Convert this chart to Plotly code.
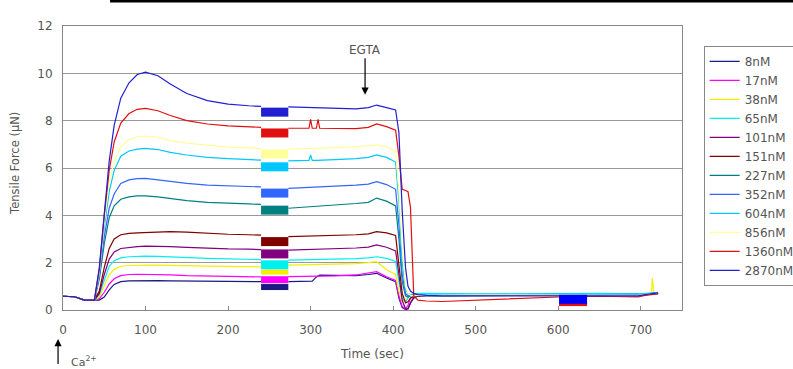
import plotly.graph_objects as go

# ---------------- data ----------------
time_sec = [0, 14, 26, 38, 44, 50, 56, 62, 70, 80, 90, 100, 115, 130, 150, 175, 200, 225, 240, 256,
            273, 298, 300, 302, 307, 309, 311, 330, 355, 370, 380, 392,
            403, 407, 411, 415, 418, 421, 425, 430, 440, 460, 500, 550, 600, 650,
            697, 705, 713, 714, 716, 721]

labels = ["8nM", "17nM", "38nM", "65nM", "101nM", "151nM", "227nM", "352nM",
          "604nM", "856nM", "1360nM", "2870nM"]
colors = ["#1a1a80", "#ff00ff", "#f5ee00", "#00f0f0", "#800080", "#800000",
          "#008080", "#3366ff", "#00c8ff", "#ffff99", "#e01010", "#2020d0"]

pre = [0.58, 0.56, 0.42, 0.42]

f_8 = pre + [0.42, 0.55, 0.85, 1.08, 1.2, 1.23, 1.24, 1.24, 1.24, 1.23, 1.23, 1.22, 1.22, 1.21, 1.2, None,
             1.2, 1.2, 1.2, 1.22, 1.4, 1.45, 1.47, 1.46, 1.45, 1.5, 1.55, 1.35,
             1.2, 0.5, 0.1, 0.02, 0.05, 0.3, 0.5, 0.58, 0.6, 0.6, 0.62, 0.62, 0.63, 0.63,
             0.6, 0.64, 0.66, 0.68, 0.68, 0.7]
f_17 = pre + [0.48, 0.75, 1.1, 1.32, 1.45, 1.5, 1.51, 1.51, 1.5, 1.48, 1.45, 1.43, 1.42, 1.41, 1.4, None,
              1.41, 1.41, 1.41, 1.41, 1.42, 1.42, 1.42, 1.44, 1.48, 1.55, 1.62, 1.4,
              1.25, 0.6, 0.15, 0.05, 0.2, 0.5, 0.6, 0.62, 0.64, 0.64, 0.64, 0.64, 0.65, 0.65,
              0.63, 0.66, 0.68, 0.7, 0.7, 0.7]
f_38 = pre + [0.55, 1.0, 1.5, 1.72, 1.85, 1.88, 1.9, 1.9, 1.9, 1.88, 1.86, 1.85, 1.84, 1.83, 1.82, None,
              1.9, 1.92, 1.92, 1.92, 1.92, 1.92, 1.92, 1.94, 1.96, 2.0, 2.04, 1.7,
              1.5, 0.8, 0.35, 0.4, 0.55, 0.62, 0.65, 0.66, 0.67, 0.66, 0.66, 0.66, 0.67, 0.66,
              0.64, 0.68, 0.7, 1.35, 0.72, 0.72]
f_65 = pre + [0.65, 1.3, 1.85, 2.08, 2.2, 2.25, 2.27, 2.28, 2.27, 2.24, 2.2, 2.18, 2.16, 2.15, 2.13, None,
              2.11, 2.12, 2.12, 2.12, 2.13, 2.13, 2.13, 2.15, 2.17, 2.2, 2.25, 2.18,
              2.05, 1.2, 0.5, 0.35, 0.5, 0.65, 0.68, 0.7, 0.7, 0.69, 0.68, 0.68, 0.7, 0.7,
              0.68, 0.7, 0.72, 0.74, 0.74, 0.75]
f_101 = pre + [0.7, 1.5, 2.15, 2.45, 2.6, 2.65, 2.68, 2.7, 2.7, 2.68, 2.65, 2.6, 2.58, 2.57, 2.55, None,
               2.53, 2.55, 2.55, 2.55, 2.56, 2.56, 2.56, 2.6, 2.62, 2.66, 2.75, 2.65,
               2.5, 1.5, 0.4, 0.05, 0.05, 0.3, 0.55, 0.62, 0.63, 0.63, 0.64, 0.64, 0.65, 0.65,
               0.63, 0.66, 0.68, 0.7, 0.7, 0.7]
f_151 = pre + [0.8, 1.8, 2.6, 3.0, 3.18, 3.24, 3.26, 3.28, 3.3, 3.31, 3.29, 3.24, 3.2, 3.18, 3.16, None,
               3.1, 3.12, 3.12, 3.12, 3.13, 3.13, 3.13, 3.15, 3.18, 3.22, 3.31, 3.26,
               3.15, 1.9, 0.7, 0.3, 0.35, 0.5, 0.58, 0.6, 0.62, 0.62, 0.63, 0.63, 0.64, 0.64,
               0.62, 0.65, 0.67, 0.68, 0.68, 0.7]
f_227 = pre + [1.3, 2.8, 3.9, 4.4, 4.68, 4.78, 4.82, 4.82, 4.78, 4.7, 4.62, 4.55, 4.5, 4.48, 4.46, None,
               4.3, 4.36, 4.36, 4.36, 4.38, 4.38, 4.38, 4.42, 4.5, 4.55, 4.73, 4.6,
               4.4, 3.0, 1.2, 0.6, 0.55, 0.6, 0.62, 0.63, 0.64, 0.64, 0.64, 0.64, 0.65, 0.65,
               0.63, 0.66, 0.68, 0.7, 0.7, 0.7]
f_352 = pre + [1.4, 3.1, 4.3, 4.9, 5.35, 5.5, 5.55, 5.56, 5.5, 5.43, 5.35, 5.28, 5.24, 5.22, 5.2, None,
               5.14, 5.18, 5.18, 5.18, 5.2, 5.2, 5.2, 5.24, 5.28, 5.32, 5.42, 5.3,
               5.1, 3.6, 1.5, 0.7, 0.6, 0.62, 0.63, 0.64, 0.65, 0.64, 0.65, 0.65, 0.66, 0.65,
               0.64, 0.67, 0.7, 0.7, 0.7, 0.72]
f_604 = pre + [1.5, 3.5, 5.0, 5.9, 6.5, 6.72, 6.8, 6.83, 6.78, 6.66, 6.55, 6.45, 6.4, 6.36, 6.33, None,
               6.3, 6.32, 6.55, 6.32, 6.32, 6.32, 6.32, 6.35, 6.4, 6.45, 6.55, 6.45,
               6.25, 4.6, 2.0, 0.9, 0.7, 0.65, 0.65, 0.66, 0.67, 0.66, 0.66, 0.66, 0.67, 0.66,
               0.65, 0.68, 0.7, 0.72, 0.72, 0.73]
f_856 = pre + [1.6, 3.7, 5.4, 6.3, 6.9, 7.2, 7.32, 7.35, 7.3, 7.16, 7.05, 6.95, 6.88, 6.85, 6.82, None,
               6.8, 6.82, 6.82, 6.82, 6.84, 6.84, 6.84, 6.86, 6.9, 6.95, 6.98, 6.9,
               6.7, 5.0, 2.6, 1.0, 0.7, 0.62, 0.6, 0.62, 0.63, 0.63, 0.64, 0.63, 0.64, 0.64,
               0.62, 0.66, 0.68, 0.7, 0.7, 0.7]
f_1360 = pre + [1.7, 4.0, 5.9, 7.1, 7.9, 8.3, 8.48, 8.52, 8.42, 8.22, 8.0, 7.86, 7.78, 7.74, 7.72, None,
                7.68, 7.68, 8.05, 7.68, 7.68, 8.05, 7.68, 7.68, 7.66, 7.72, 7.86, 7.75,
                7.6, 6.5, 5.1, 5.05, 5.0, 4.35, 0.6, 0.42, 0.38, 0.36, 0.42, 0.5, 0.55, 0.58,
                0.55, 0.62, 0.65, 0.66, 0.66, 0.68]
f_2870 = pre + [1.8, 4.2, 6.3, 7.8, 8.95, 9.6, 9.95, 10.05, 9.9, 9.55, 9.15, 8.85, 8.7, 8.63, 8.6, None,
                8.58, 8.56, 8.56, 8.56, 8.55, 8.55, 8.55, 8.52, 8.5, 8.55, 8.66, 8.55,
                8.45, 7.5, 4.2, 1.8, 1.0, 0.8, 0.7, 0.65, 0.62, 0.6, 0.6, 0.62, 0.63, 0.63,
                0.6, 0.65, 0.68, 0.7, 0.7, 0.72]

series = [f_8, f_17, f_38, f_65, f_101, f_151, f_227, f_352, f_604, f_856, f_1360, f_2870]

# noisy segments (rendered as solid bands) around 240-273 s
band_time = [240, 273]
band_level = [0.97, 1.28, 1.6, 1.91, 2.37, 2.89, 4.22, 4.94, 6.05, 6.59, 7.48, 8.36]
band_width = [6, 7, 5, 9, 9, 9, 9, 9, 9, 9, 9, 9]

# noisy band near 600-635 s
late_time = [601, 635]
late_level_blue = [0.45, 0.45]
late_level_red = [0.25, 0.25]

fig = go.Figure()

for lab, col, ys in zip(labels, colors, series):
    fig.add_trace(go.Scatter(x=time_sec, y=ys, mode="lines", name=lab,
                             line=dict(color=col, width=1.2), connectgaps=False))

for col, lev, w in zip(colors, band_level, band_width):
    fig.add_trace(go.Scatter(x=band_time, y=[lev, lev], mode="lines", showlegend=False,
                             line=dict(color=col, width=w), hoverinfo="skip"))

fig.add_trace(go.Scatter(x=late_time, y=late_level_red, mode="lines", showlegend=False,
                         line=dict(color="#e01010", width=4), hoverinfo="skip"))
fig.add_trace(go.Scatter(x=late_time, y=late_level_blue, mode="lines", showlegend=False,
                         line=dict(color="#0000ff", width=9), hoverinfo="skip"))

FONT = "DejaVu Sans"
GREY = "#555555"

fig.update_layout(
    width=793, height=369,
    margin=dict(l=63, r=111, t=26, b=59, autoexpand=False),
    paper_bgcolor="white", plot_bgcolor="white",
    font=dict(family=FONT, size=11, color=GREY),
    showlegend=True,
    legend=dict(x=1.035, y=0.93, xanchor="left", yanchor="top",
                bordercolor="#888888", borderwidth=1, bgcolor="white",
                font=dict(family=FONT, size=12, color=GREY),
                tracegroupgap=0, itemwidth=30),
    xaxis=dict(range=[0, 750], tickvals=[0, 100, 200, 300, 400, 500, 600, 700],
               ticks="inside", ticklen=4, tickcolor="#888888",
               showline=True, linecolor="#888888", linewidth=1, mirror=True,
               showgrid=False, zeroline=False, ticklabelstandoff=9,
               title=dict(text="Time (sec)", font=dict(family=FONT, size=12, color=GREY),
                          standoff=13),
               tickfont=dict(family=FONT, size=12, color=GREY)),
    yaxis=dict(range=[0, 12], tickvals=[0, 2, 4, 6, 8, 10, 12],
               showline=True, linecolor="#888888", linewidth=1, mirror=True,
               showgrid=True, gridcolor="#999999", gridwidth=1, zeroline=False,
               ticks="", ticklabelstandoff=7,
               tickfont=dict(family=FONT, size=12, color=GREY)),
)

fig.add_annotation(text="Tensile Force (μN)", textangle=-90, xref="paper", yref="paper",
                   x=-0.078, y=0.517, xanchor="center", yanchor="middle", showarrow=False,
                   font=dict(family=FONT, size=11.5, color=GREY))
fig.add_annotation(text="EGTA", x=366, y=9.1, xref="x", yref="y",
                   showarrow=True, ax=0, ay=-45, arrowhead=2, arrowsize=1.2,
                   arrowwidth=1.2, arrowcolor="black",
                   font=dict(family=FONT, size=12, color=GREY))
fig.add_annotation(text=" ", xref="paper", yref="paper", x=-0.008, y=-0.102,
                   showarrow=True, ax=0, ay=31, arrowhead=2, arrowsize=1.2,
                   arrowwidth=1.2, arrowcolor="black", font=dict(size=6))
fig.add_annotation(text="Ca<sup>2+</sup>", xref="paper", yref="paper", x=0.01, y=-0.183,
                   xanchor="left", yanchor="middle", showarrow=False,
                   font=dict(family=FONT, size=11, color=GREY))

fig.add_shape(type="line", xref="paper", yref="paper", x0=0.076, x1=1.19,
              y0=1.088, y1=1.088, line=dict(color="black", width=3))

fig.write_html("out.html", config={"displayModeBar": False},
               post_script="document.body.style.margin='0';document.body.style.overflow='hidden';")
